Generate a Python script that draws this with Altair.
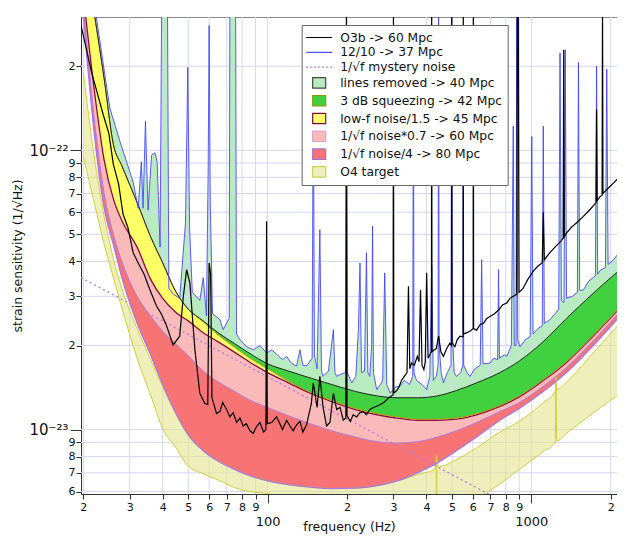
import altair as alt
import pandas as pd

E23 = 1e-23
F_MIN, F_MAX = 19.6, 2113
V_MIN, V_MAX = 5.88e-24, 3.0e-22

# ---- smooth noise-budget curves (values in units of 1e-23 1/sqrt(Hz)) ----
freq = [20, 22, 24, 26, 28, 32, 36, 40, 45, 50, 57, 65, 75, 85, 100, 120, 145, 175,
        215, 260, 310, 370, 440, 520, 620, 760, 900, 1100, 1360, 1700, 2250]
lines_removed = [56, 31, 18, 10.5, 8.8, 6.5, 4.9, 3.95, 3.1, 2.7, 2.45, 2.22, 2.03, 1.88, 1.72,
                 1.62, 1.53, 1.45, 1.37, 1.32, 1.30, 1.30, 1.32, 1.38, 1.47, 1.60, 1.76, 2.05,
                 2.50, 3.05, 3.85]
squeezed = [56, 31, 18, 10.5, 8.8, 6.5, 4.9, 3.95, 3.1, 2.7, 2.43, 2.18, 1.97, 1.81, 1.65,
            1.49, 1.36, 1.27, 1.19, 1.14, 1.11, 1.09, 1.09, 1.10, 1.14, 1.22, 1.32, 1.50,
            1.75, 2.15, 2.85]
lowf_div = [36, 16.5, 9.2, 6.7, 5.6, 4.5, 3.45, 2.95, 2.62, 2.45, 2.22, 2.06, 1.89, 1.75, 1.60,
            1.47, 1.35, 1.26, 1.18, 1.13, 1.10, 1.08, 1.08, 1.09, 1.13, 1.21, 1.31, 1.49,
            1.74, 2.14, 2.83]
sqrtf_07 = [33, 13, 7.0, 5.0, 4.0, 3.0, 2.55, 2.25, 2.02, 1.84, 1.62, 1.48, 1.37, 1.28, 1.20,
            1.12, 1.05, 0.99, 0.94, 0.905, 0.895, 0.905, 0.94, 0.99, 1.06, 1.16, 1.25, 1.42,
            1.67, 2.06, 2.75]
sqrtf_4 = [30, 11.5, 6.2, 4.6, 3.5, 2.4, 1.85, 1.45, 1.14, 0.96, 0.84, 0.77, 0.72, 0.685, 0.655,
           0.635, 0.622, 0.615, 0.617, 0.63, 0.655, 0.70, 0.76, 0.84, 0.94, 1.08, 1.19, 1.36,
           1.60, 1.98, 2.65]

# ---- O4 target band ----
o4_freq = [20, 22, 24, 26, 28, 32, 36, 40, 45, 50, 57, 65, 75, 85, 100, 120, 145, 175, 215, 260,
           310, 370, 434, 437, 440, 520, 620, 760, 900, 1100, 1232, 1240, 1248, 1360, 1700, 2250]
o4_upper = [19, 9.5, 5.8, 4.1, 3.2, 2.3, 1.78, 1.42, 1.13, 0.95, 0.84, 0.77, 0.72, 0.685, 0.655,
            0.635, 0.622, 0.615, 0.617, 0.63, 0.655, 0.69, 0.725, 0.81, 0.735, 0.78, 0.86, 0.98,
            1.07, 1.24, 1.37, 1.546, 1.39, 1.48, 1.86, 2.5]
o4_lower = [9.5, 6.5, 4.6, 3.5, 2.73, 1.8, 1.33, 1.01, 0.86, 0.74, 0.695, 0.66, 0.62, 0.60, 0.59,
            0.555, 0.525, 0.50, 0.48, 0.47, 0.47, 0.48, 0.497, 0.81, 0.50, 0.53, 0.565, 0.64,
            0.72, 0.83, 0.9, 1.546, 0.91, 0.97, 1.14, 1.38]

# ---- 1/sqrt(f) mystery noise ----
mystery_freq = [19.6, 800]
mystery_val = [3.5, 0.545]

# ---- 12/10 measured spectrum (blue) ----
blue_freq = [21.0, 22.4, 25.2, 27.5, 30.9, 32.3, 33.2, 33.7, 34.4, 35.2,
             36.3, 37.4, 38.1, 39.1, 39.8, 41.6, 42.2, 44.0, 46.4, 48.8,
             49.8, 50.6, 51.8, 55.3, 57.0, 58.6, 59.5, 60.0, 60.6, 61.8,
             65.9, 67.8, 71.5, 72.0, 75.5, 76.2, 78.5, 83.2, 88.2, 93.5,
             99.1, 103.6, 113.9, 118.0, 121.6, 125.1, 128.8, 132.6, 136.0, 140.5,
             147.5, 149.0, 150.5, 154.0, 157.8, 160.0, 162.3, 170.0, 177.6, 180.0,
             182.7, 190.0, 197.5, 199.0, 200.5, 208.3, 216.0, 221.0, 224.0, 227.0,
             233.0, 237.0, 240.0, 244.0, 248.0, 250.0, 252.0, 259.1, 268.0, 273.0,
             278.0, 283.0, 291.5, 305.0, 318.0, 330.0, 345.0, 355.0, 357.0, 359.0,
             367.0, 385.0, 401.0, 412.0, 419.0, 425.0, 436.0, 443.0, 445.0, 447.0,
             455.0, 464.0, 480.0, 496.0, 499.0, 502.0, 510.0, 520.0, 540.0, 550.0,
             552.0, 554.0, 570.0, 585.0, 610.0, 640.0, 648.0, 656.0, 697.0, 720.0,
             745.0, 751.0, 757.0, 790.0, 807.0, 840.0, 854.0, 862.0, 875.0, 880.0,
             888.0, 906.0, 950.0, 990.0, 1004.0, 1015.0, 1060.0, 1100.0, 1110.0, 1120.0,
             1175.0, 1230.0, 1270.0, 1285.0, 1300.0, 1330.0, 1345.0, 1360.0, 1430.0, 1495.0,
             1509.0, 1525.0, 1575.0, 1650.0, 1750.0, 1768.0, 1785.0, 1825.0, 1910.0, 1932.0,
             1955.0, 2053.0, 2150.0, 2220.0, 2240.0, 2260.0]
blue_val = [45, 30, 14.2, 10.8, 7.7, 6.2, 9.1, 6.2, 12.7, 6.1,
            9.6, 9.8, 9.1, 4.5, 60, 60, 3.2, 3.05, 2.95, 5.5,
            19.8, 5.2, 3.1, 2.9, 3.5, 2.55, 8.4, 28, 6.5, 2.6,
            2.48, 2.28, 2.5, 60, 60, 2.2, 2.1, 1.98, 1.93, 2.0,
            1.88, 1.93, 1.78, 1.83, 1.75, 1.71, 1.69, 1.93, 1.7, 1.69,
            1.8, 20, 1.85, 1.65, 5.2, 1.62, 1.55, 1.62, 2.28, 1.6,
            1.55, 1.58, 1.6, 12, 1.6, 1.47, 1.55, 2.3, 3.95, 1.6,
            1.62, 4.3, 1.6, 1.55, 2.0, 5.35, 1.6, 1.39, 1.45, 1.5,
            3.64, 1.45, 1.35, 1.42, 1.43, 1.5, 1.45, 1.55, 25, 1.6,
            1.5, 1.45, 1.39, 1.55, 3.84, 1.5, 1.55, 1.7, 40, 2.0,
            1.6, 1.47, 1.6, 1.7, 40, 2.2, 1.6, 1.55, 1.6, 1.7,
            9.0, 1.7, 1.6, 1.55, 1.65, 1.7, 4.06, 1.72, 1.73, 1.8,
            1.78, 3.74, 1.8, 1.85, 1.83, 2.0, 12.2, 2.0, 2.0, 40,
            2.1, 1.98, 2.1, 2.15, 11.2, 2.2, 2.3, 2.35, 12.2, 2.4,
            2.47, 2.6, 2.7, 22.3, 2.9, 2.85, 22.9, 2.95, 3.0, 3.1,
            20.6, 3.15, 3.16, 3.4, 3.55, 20, 3.6, 3.72, 3.8, 19.5,
            3.9, 4.06, 4.3, 4.5, 7.4, 4.66]

# ---- O3b measured spectrum (black) ----
black_freq = [19.6, 21.5, 23.8, 25.0, 26.0, 27.2, 28.3, 29.5, 30.9, 32.5,
              34.0, 35.8, 37.9, 39.5, 41.4, 43.8, 46.4, 47.9, 49.3, 50.7,
              53.0, 55.3, 57.8, 59.3, 60.0, 60.8, 61.5, 64.0, 65.9, 67.5,
              69.9, 71.9, 74.0, 76.3, 78.5, 80.8, 83.0, 85.7, 88.2, 90.5,
              93.5, 96.5, 98.5, 99.1, 99.7, 103.6, 108.2, 113.9, 118.0, 121.6,
              125.0, 128.8, 132.6, 136.0, 140.5, 146.5, 149.0, 154.0, 157.8, 162.3,
              167.3, 172.3, 177.6, 182.7, 188.2, 193.6, 198.0, 199.0, 200.0, 205.8,
              211.0, 217.6, 224.0, 230.6, 237.0, 244.0, 252.2, 263.0, 275.9, 283.0,
              291.5, 299.0, 300.0, 301.0, 308.7, 315.0, 322.0, 330.0, 337.8, 342.0,
              346.0, 351.3, 360.0, 369.6, 375.0, 380.0, 385.0, 391.3, 396.0, 401.0,
              406.0, 412.0, 418.0, 419.0, 420.0, 428.3, 436.0, 445.0, 454.0, 464.0,
              478.0, 491.0, 498.0, 499.0, 500.0, 513.0, 524.0, 536.0, 551.0, 552.0,
              553.0, 568.0, 585.0, 602.0, 603.0, 604.0, 620.5, 640.0, 658.0, 678.0,
              697.0, 725.0, 751.0, 780.0, 807.0, 830.0, 854.0, 880.0, 886.0, 892.0,
              898.0, 930.0, 970.0, 1019.0, 1060.0, 1100.0, 1110.0, 1120.0, 1175.0, 1230.0,
              1300.0, 1320.0, 1327.0, 1334.0, 1361.0, 1420.0, 1500.0, 1575.0, 1660.0, 1760.0,
              1768.0, 1776.0, 1825.0, 1855.0, 1862.0, 1869.0, 1950.0, 2053.0, 2150.0, 2215.0,
              2220.0, 2225.0, 2268.0]
black_val = [28, 19, 13.4, 11.5, 8.9, 7.6, 5.9, 5.3, 4.3, 3.9,
             3.6, 3.16, 2.77, 2.6, 2.35, 2.01, 2.16, 3.0, 3.74, 3.35,
             1.93, 1.35, 1.24, 1.23, 3.95, 3.6, 1.3, 1.14, 1.16, 1.25,
             1.18, 1.11, 1.15, 1.06, 1.1, 1.03, 1.05, 0.99, 0.97, 1.02,
             1.06, 0.98, 1.0, 5.57, 1.05, 1.06, 1.11, 1.0, 1.08, 1.03,
             0.99, 1.04, 1.07, 0.98, 1.04, 1.24, 1.47, 1.2, 1.55, 1.2,
             1.03, 1.06, 1.35, 1.18, 1.2, 1.08, 1.1, 35, 1.12, 1.07,
             1.13, 1.11, 1.15, 1.16, 1.13, 1.18, 1.2, 1.22, 1.25, 1.28,
             1.31, 1.33, 30, 1.35, 1.38, 1.42, 1.5, 1.55, 1.6, 3.26,
             1.65, 1.73, 1.7, 1.83, 1.75, 3.16, 1.7, 1.64, 1.75, 3.64,
             1.8, 1.85, 1.9, 40, 1.9, 1.93, 1.95, 2.16, 1.9, 1.83,
             1.95, 2.04, 2.0, 40, 2.05, 1.98, 2.1, 2.16, 2.15, 40,
             2.2, 2.22, 2.25, 2.3, 40, 2.3, 2.27, 2.38, 2.4, 2.5,
             2.54, 2.6, 2.68, 2.8, 2.84, 2.95, 3.0, 3.05, 40, 40,
             3.1, 3.2, 3.45, 3.7, 3.85, 3.95, 6.0, 4.05, 4.3, 4.5,
             4.75, 4.85, 22.9, 4.9, 5.06, 5.3, 5.55, 5.8, 6.1, 6.5,
             14, 6.6, 6.84, 6.9, 35, 7.0, 7.3, 7.64, 8.0, 8.2,
             13.6, 8.3, 8.5]

# ---- axis ticks ----
x_ticks = [20, 30, 40, 50, 60, 70, 80, 90, 100, 200, 300, 400, 500, 600, 700, 800, 900, 1000, 2000]
y_ticks = [6e-24, 7e-24, 8e-24, 9e-24, 1e-23, 2e-23, 3e-23, 4e-23, 5e-23, 6e-23, 7e-23, 8e-23,
           9e-23, 1e-22, 2e-22]

# ---- legend ----
legend_names = ["O3b -> 60 Mpc", "12/10 -> 37 Mpc", "1/\u221af mystery noise",
                "lines removed -> 40 Mpc", "3 dB squeezing -> 42 Mpc", "low-f noise/1.5 -> 45 Mpc",
                "1/\u221af noise*0.7 -> 60 Mpc", "1/\u221af noise/4 -> 80 Mpc", "O4 target"]
LINE_SYM = "M-2,0H2"
BOX_SYM = "M-1,-0.8H1V0.8H-1Z"
legend_shapes = [LINE_SYM] * 3 + [BOX_SYM] * 6
legend_fills = ["transparent", "transparent", "transparent", "#b8ecc0", "#40d040", "#ffff70",
                "#fbbaba", "#f87474", "#efefbe"]
legend_strokes = ["#000000", "#5050ff", "#b080e0", "#444444", "#8a9a10", "#7a0a3a",
                  "#d8a0d8", "#a070d8", "#d0d050"]
legend_dashes = [[1, 0], [1, 0], [2, 2], [1, 0], [1, 0], [1, 0], [1, 0], [1, 0], [1, 0]]

# ---------------- data frames ----------------
smooth = pd.DataFrame({
    "f": freq,
    "A": [v * E23 for v in lines_removed],
    "B": [v * E23 for v in squeezed],
    "C": [v * E23 for v in lowf_div],
    "D": [v * E23 for v in sqrtf_07],
    "E": [v * E23 for v in sqrtf_4],
})
o4 = pd.DataFrame({"f": o4_freq, "U": [v * E23 for v in o4_upper], "L": [v * E23 for v in o4_lower]})
mystery = pd.DataFrame({"f": mystery_freq, "v": [v * E23 for v in mystery_val]})
blue = pd.DataFrame({"f": blue_freq, "v": [v * E23 for v in blue_val]})
black = pd.DataFrame({"f": black_freq, "v": [v * E23 for v in black_val]})
xt = pd.DataFrame({"t": x_ticks})
yt = pd.DataFrame({"t": y_ticks})
leg_df = pd.DataFrame({"series": legend_names, "f": [100.0] * 9, "v": [1e-23] * 9})

xs = alt.Scale(type="log", domain=[F_MIN, F_MAX], nice=False)
ys = alt.Scale(type="log", domain=[V_MIN, V_MAX], nice=False)

FONT = "DejaVu Sans"
dec_x = "datum.value == 100 || datum.value == 1000"
dec_y = "abs(log(datum.value) / LN10 - round(log(datum.value) / LN10)) < 0.01"
mant = "format(datum.value / pow(10, floor(log(datum.value) / LN10 + 1e-6)), '.0f')"

x_axis = alt.Axis(
    values=x_ticks, grid=False, title="frequency (Hz)",
    labelExpr=f"({dec_x}) ? format(datum.value, 'd') : {mant}",
    labelFontSize={"condition": {"test": dec_x, "value": 13}, "value": 11},
    labelPadding={"condition": {"test": dec_x, "value": 12}, "value": 2},
    tickSize={"condition": {"test": dec_x, "value": 9}, "value": 5},
    labelOverlap=False, labelFlush=False, labelBound=False,
    titleFontSize=12.5, titleFontWeight="normal", titlePadding=-8, titleFont=FONT,
    labelFont=FONT, domainColor="#333", tickColor="#333", labelColor="#111", titleColor="#111",
)
y_axis = alt.Axis(
    values=y_ticks, grid=False, title="strain sensitivity (1/\u221aHz)",
    labelExpr=f"({dec_y}) ? (datum.value < 5e-23 ? '10\u207b\u00b2\u00b3' : '10\u207b\u00b2\u00b2') : {mant}",
    labelFontSize={"condition": {"test": dec_y, "value": 15}, "value": 11},
    labelPadding={"condition": {"test": dec_y, "value": 2}, "value": 1},
    tickSize={"condition": {"test": dec_y, "value": 11}, "value": 5},
    labelOverlap=False, labelFlush=False, labelBound=False,
    titleFontSize=12.5, titleFontWeight="normal", titlePadding=4, titleFont=FONT,
    labelFont=FONT, domainColor="#333", tickColor="#333", labelColor="#111", titleColor="#111",
)


def X(field="f"):
    return alt.X(f"{field}:Q", scale=xs, axis=x_axis)


def Y(field):
    return alt.Y(f"{field}:Q", scale=ys, axis=y_axis)


# 1. light green fill under 12/10 spectrum
lightgreen = alt.Chart(blue).mark_area(color="#b8ecc0", clip=True).encode(
    x=X("f"), y=Y("v"), y2=alt.datum(V_MIN))
# 2. white mask below the lowest budget curve
mask = alt.Chart(smooth).mark_area(color="white", interpolate="monotone", clip=True).encode(
    x=X(), y=Y("E"), y2=alt.datum(V_MIN))
# 3. grid
grid_color = "#d6d6f2"
xgrid = alt.Chart(xt).mark_rule(color=grid_color, strokeWidth=1, clip=True).encode(x=X("t"))
ygrid = alt.Chart(yt).mark_rule(color=grid_color, strokeWidth=1, clip=True).encode(y=Y("t"))


def band(top, bottom, color):
    return alt.Chart(smooth).mark_area(color=color, interpolate="monotone", clip=True).encode(
        x=X(), y=Y(top), y2=alt.Y2(f"{bottom}:Q"))


green = band("A", "B", "#40d040")
yellow = band("B", "C", "#ffff66")
pink = band("C", "D", "#fbbaba")
red = band("D", "E", "#f87474")
khaki = alt.Chart(o4).mark_area(color="#e4e490", opacity=0.6, interpolate="monotone", clip=True).encode(
    x=X(), y=Y("U"), y2=alt.Y2("L:Q"))


def curve(df, field, color, width=1.0, dash=None, interp="monotone", opacity=1.0):
    kw = dict(color=color, strokeWidth=width, clip=True, interpolate=interp, opacity=opacity)
    if dash is not None:
        kw["strokeDash"] = dash
    return alt.Chart(df).mark_line(**kw).encode(x=X(), y=Y(field))


o4_up_line = curve(o4, "U", "#d2cf3a", 1.0)
o4_lo_line = curve(o4, "L", "#d2cf3a", 1.0)
e_line = curve(smooth, "E", "#a878e0", 1.3)
d_line = curve(smooth, "D", "#b07ad8", 1.0)
c_line = curve(smooth, "C", "#8b0a45", 1.3)
b_line = curve(smooth, "B", "#b09a10", 1.0)
a_line = curve(smooth, "A", "#222222", 1.0)
myst_line = curve(mystery, "v", "#b878e0", 1.3, dash=[2, 3], interp="linear")
blue_line = curve(blue, "v", "#4040ff", 1.0, interp="linear", opacity=0.85)
black_line = curve(black, "v", "#000000", 1.2, interp="linear")

leg = alt.Legend(orient="none", legendX=220.7, legendY=8, title=None, padding=5,
                 strokeColor="#666666", fillColor="white", labelFontSize=12.3, labelFont=FONT,
                 labelColor="#111111", symbolSize=169, symbolStrokeWidth=1.2, symbolOffset=5,
                 labelOffset=13.5, rowPadding=0.8, labelLimit=400, cornerRadius=0)
legend_layer = alt.Chart(leg_df).transform_filter("datum.v < 0").mark_point(
    filled=True, opacity=1).encode(
    x=X(), y=Y("v"),
    shape=alt.Shape("series:N", scale=alt.Scale(domain=legend_names, range=legend_shapes), legend=leg),
    fill=alt.Fill("series:N", scale=alt.Scale(domain=legend_names, range=legend_fills), legend=leg),
    stroke=alt.Stroke("series:N", scale=alt.Scale(domain=legend_names, range=legend_strokes), legend=leg),
    strokeDash=alt.StrokeDash("series:N", scale=alt.Scale(domain=legend_names, range=legend_dashes),
                              legend=leg),
)

chart = alt.layer(
    lightgreen, mask, xgrid, ygrid, green, yellow, pink, red, khaki,
    o4_up_line, o4_lo_line, e_line, d_line, c_line, b_line, a_line,
    myst_line, blue_line, black_line, legend_layer,
).properties(
    width=536, height=477,
    padding={"left": 73, "top": 9, "right": 0, "bottom": 41},
    autosize=alt.AutoSizeParams(type="none"),
).configure(font=FONT).configure_view(stroke="#888888", strokeWidth=1)

chart.save("out.html", embed_options={"renderer": "svg", "actions": False})
